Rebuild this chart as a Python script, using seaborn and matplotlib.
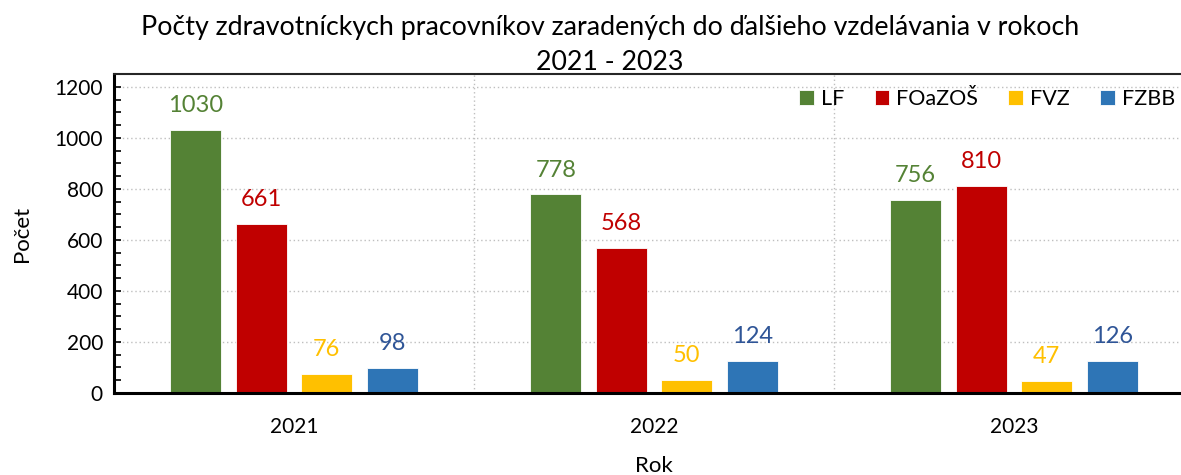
import matplotlib
matplotlib.use("Agg")
import matplotlib.pyplot as plt
import seaborn as sns
import pandas as pd
from matplotlib.ticker import MultipleLocator

years = ["2021", "2022", "2023"]
series = ["LF", "FOaZOŠ", "FVZ", "FZBB"]
lf = [1030, 778, 756]
foazos = [661, 568, 810]
fvz = [76, 50, 47]
fzbb = [98, 124, 126]

bar_colors = ["#548235", "#C00000", "#FFC000", "#2E75B6"]
label_colors = ["#548235", "#C00000", "#FFC000", "#2F5597"]

rows = []
for s, vals in zip(series, [lf, foazos, fvz, fzbb]):
    for y, v in zip(years, vals):
        rows.append({"Rok": y, "Séria": s, "Počet": v})
df = pd.DataFrame(rows)

sns.set_theme(style="white")
plt.rcParams['font.family'] = ['Lato', 'DejaVu Sans']
plt.rcParams['text.color'] = 'black'
plt.rcParams['axes.labelcolor'] = 'black'

fig = plt.figure(figsize=(11.81, 4.75), dpi=100)
W, H = 1181, 475
left, right, top, bottom = 114, 1194, 74, 393
ax = fig.add_axes([left / W, 1 - bottom / H, (right - left) / W, (bottom - top) / H])

sns.barplot(data=df, x="Rok", y="Počet", hue="Séria", order=years, hue_order=series,
            palette=bar_colors, width=0.728, gap=0.22, ax=ax, saturation=1,
            edgecolor="white", linewidth=0.6)

ax.set_ylim(0, 1250)
ax.set_xlim(-0.5, 2.5)
ax.yaxis.set_major_locator(MultipleLocator(200))
ax.yaxis.set_minor_locator(MultipleLocator(50))
ax.tick_params(axis="y", which="both", direction="in", length=5, width=1.2,
               left=True, labelsize=15, colors="black", pad=8)
ax.tick_params(axis="x", which="both", length=0, labelsize=15, pad=17, colors="black")

ax.grid(axis="y", which="major", linestyle=(0, (1, 2)), color="#BFBFBF", linewidth=1)
ax.set_axisbelow(True)
for xv in [0.5, 1.5]:
    ax.axvline(xv, linestyle=(0, (1, 2)), color="#BFBFBF", linewidth=1, zorder=0)

for sp in ["left", "bottom"]:
    ax.spines[sp].set_linewidth(2.2)
    ax.spines[sp].set_color("black")
ax.spines["top"].set_linewidth(1.5)
ax.spines["top"].set_color("#262626")
ax.spines["right"].set_visible(False)

for cont, col in zip(ax.containers, label_colors):
    ax.bar_label(cont, padding=10, color=col, fontsize=17)

ax.set_ylabel("Počet", fontsize=16, labelpad=16)
ax.set_xlabel("Rok", fontsize=16, labelpad=14)

leg = ax.legend(loc="upper right", bbox_to_anchor=((1190 - left) / (right - left), 1.0),
                ncol=4, frameon=False, fontsize=15.5, handlelength=0.68, handleheight=0.68,
                handletextpad=0.33, columnspacing=1.4, borderaxespad=0.3)

fig.text(610 / W, 1 - 27 / H, "Počty zdravotníckych pracovníkov zaradených do ďalšieho vzdelávania v rokoch",
         ha="center", va="center", fontsize=19.3)
fig.text(610 / W, 1 - 62 / H, "2021 - 2023", ha="center", va="center", fontsize=19.3)

fig.savefig("out.png", dpi=100)
